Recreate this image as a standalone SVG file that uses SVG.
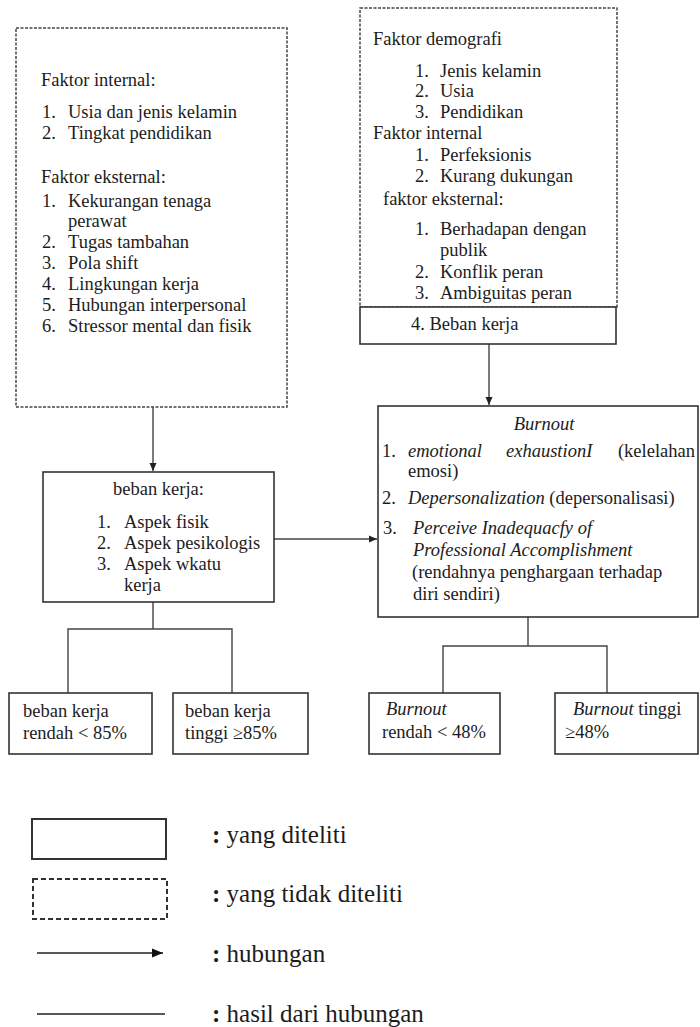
<svg xmlns="http://www.w3.org/2000/svg" width="700" height="1027" viewBox="0 0 700 1027">
<style>
.t{font-family:"Liberation Serif","Times New Roman",serif;font-size:18.5px;fill:#1c1c1c}
.i{font-style:italic}
.lg{font-family:"Liberation Serif","Times New Roman",serif;font-size:25px;fill:#1c1c1c}
.b{font-weight:bold}
.solid{fill:#fff;stroke:#333;stroke-width:1.6}
.dash{fill:none;stroke:#444;stroke-width:1.5;stroke-dasharray:3 1.5}
.conn{stroke:#444;stroke-width:1.4;fill:none}
</style>
<defs>
<marker id="ah" markerUnits="userSpaceOnUse" markerWidth="9" markerHeight="8" refX="8" refY="4" orient="auto">
<path d="M0,0.5 L8,4 L0,7.5 z" fill="#222"/>
</marker>
<marker id="ahl" markerUnits="userSpaceOnUse" markerWidth="12" markerHeight="10" refX="11" refY="5" orient="auto">
<path d="M0,0.5 L11,5 L0,9.5 z" fill="#111"/>
</marker>
</defs>
<rect width="700" height="1027" fill="#fff"/>

<g id="connectors">
<line class="conn" x1="153" y1="407" x2="153" y2="471" marker-end="url(#ah)"/>
<line class="conn" x1="489" y1="344" x2="489" y2="405" marker-end="url(#ah)"/>
<line class="conn" x1="274" y1="539" x2="377" y2="539" marker-end="url(#ah)"/>
<path class="conn" d="M153,602 V629 M68,693 V629 H232 V693"/>
<path class="conn" d="M528,617 V646 M443,693 V646 H607 V693"/>
</g>

<g id="faktor-kiri">
<rect class="dash" x="16" y="28" width="271" height="379"/>
<text class="t" x="41" y="86">Faktor internal:</text>
<text class="t" x="42" y="118">1.</text><text class="t" x="68" y="118">Usia dan jenis kelamin</text>
<text class="t" x="42" y="139">2.</text><text class="t" x="68" y="139">Tingkat pendidikan</text>
<text class="t" x="41" y="183">Faktor eksternal:</text>
<text class="t" x="42" y="207">1.</text><text class="t" x="68" y="207">Kekurangan tenaga</text>
<text class="t" x="68" y="227">perawat</text>
<text class="t" x="42" y="248">2.</text><text class="t" x="68" y="248">Tugas tambahan</text>
<text class="t" x="42" y="269">3.</text><text class="t" x="68" y="269">Pola shift</text>
<text class="t" x="42" y="290">4.</text><text class="t" x="68" y="290">Lingkungan kerja</text>
<text class="t" x="42" y="311">5.</text><text class="t" x="68" y="311">Hubungan interpersonal</text>
<text class="t" x="42" y="332">6.</text><text class="t" x="68" y="332">Stressor mental dan fisik</text>
</g>

<g id="faktor-kanan">
<rect class="dash" x="360" y="8" width="257" height="299"/>
<text class="t" x="373" y="45">Faktor demografi</text>
<text class="t" x="415" y="77">1.</text><text class="t" x="440" y="77">Jenis kelamin</text>
<text class="t" x="415" y="97">2.</text><text class="t" x="440" y="97">Usia</text>
<text class="t" x="415" y="118">3.</text><text class="t" x="440" y="118">Pendidikan</text>
<text class="t" x="373" y="139">Faktor internal</text>
<text class="t" x="415" y="161">1.</text><text class="t" x="440" y="161">Perfeksionis</text>
<text class="t" x="415" y="182">2.</text><text class="t" x="440" y="182">Kurang dukungan</text>
<text class="t" x="383" y="205">faktor eksternal:</text>
<text class="t" x="415" y="235">1.</text><text class="t" x="440" y="235">Berhadapan dengan</text>
<text class="t" x="440" y="256">publik</text>
<text class="t" x="415" y="278">2.</text><text class="t" x="440" y="278">Konflik peran</text>
<text class="t" x="415" y="299">3.</text><text class="t" x="440" y="299">Ambiguitas peran</text>
</g>

<g id="beban-kerja-faktor">
<rect class="solid" x="360" y="307" width="256" height="37"/>
<text class="t" x="411" y="330">4. Beban kerja</text>
</g>

<g id="beban-kerja">
<rect class="solid" x="43" y="472" width="231" height="130"/>
<text class="t" x="158.5" y="495" text-anchor="middle">beban kerja:</text>
<text class="t" x="97" y="528">1.</text><text class="t" x="124" y="528">Aspek fisik</text>
<text class="t" x="97" y="549">2.</text><text class="t" x="124" y="549">Aspek pesikologis</text>
<text class="t" x="97" y="570">3.</text><text class="t" x="124" y="570">Aspek wkatu</text>
<text class="t" x="124" y="591">kerja</text>
</g>

<g id="burnout">
<rect class="solid" x="378" y="406" width="320" height="211"/>
<text class="t i" x="544" y="430" text-anchor="middle">Burnout</text>
<text class="t" x="382" y="457">1.</text>
<text class="t i" x="408" y="457">emotional</text>
<text class="t i" x="506" y="457">exhaustionI</text>
<text class="t" x="695" y="457" text-anchor="end">(kelelahan</text>
<text class="t" x="408" y="477">emosi)</text>
<text class="t" x="382" y="504">2.</text>
<text class="t" x="408" y="504"><tspan class="i">Depersonalization</tspan> (depersonalisasi)</text>
<text class="t" x="383" y="534">3.</text>
<text class="t i" x="413" y="534">Perceive Inadequacfy of</text>
<text class="t i" x="413" y="556">Professional Accomplishment</text>
<text class="t" x="412" y="578">(rendahnya penghargaan terhadap</text>
<text class="t" x="413" y="600">diri sendiri)</text>
</g>

<g id="beban-rendah">
<rect class="solid" x="9" y="693" width="143" height="61"/>
<text class="t" x="23" y="717">beban kerja</text>
<text class="t" x="23" y="739">rendah &lt; 85%</text>
</g>
<g id="beban-tinggi">
<rect class="solid" x="173" y="693" width="135" height="61"/>
<text class="t" x="185" y="717">beban kerja</text>
<text class="t" x="185" y="739">tinggi ≥85%</text>
</g>
<g id="burnout-rendah">
<rect class="solid" x="369" y="693" width="131" height="61"/>
<text class="t i" x="386" y="715">Burnout</text>
<text class="t" x="382" y="738">rendah &lt; 48%</text>
</g>
<g id="burnout-tinggi">
<rect class="solid" x="555" y="693" width="143" height="61"/>
<text class="t" x="573" y="715"><tspan class="i">Burnout</tspan> tinggi</text>
<text class="t" x="565" y="738">≥48%</text>
</g>

<g id="legend">
<rect x="32" y="819" width="134" height="40" fill="#fff" stroke="#333" stroke-width="2"/>
<rect x="33" y="879" width="134" height="40" fill="none" stroke="#333" stroke-width="2" stroke-dasharray="5 3"/>
<line x1="37" y1="953" x2="163" y2="953" stroke="#222" stroke-width="1.5" marker-end="url(#ahl)"/>
<line x1="37" y1="1014" x2="165" y2="1014" stroke="#222" stroke-width="1.5"/>
<text class="lg" x="212" y="843"><tspan class="b">:</tspan> yang diteliti</text>
<text class="lg" x="212" y="902"><tspan class="b">:</tspan> yang tidak diteliti</text>
<text class="lg" x="212" y="962"><tspan class="b">:</tspan> hubungan</text>
<text class="lg" x="212" y="1022"><tspan class="b">:</tspan> hasil dari  hubungan</text>
</g>
</svg>
